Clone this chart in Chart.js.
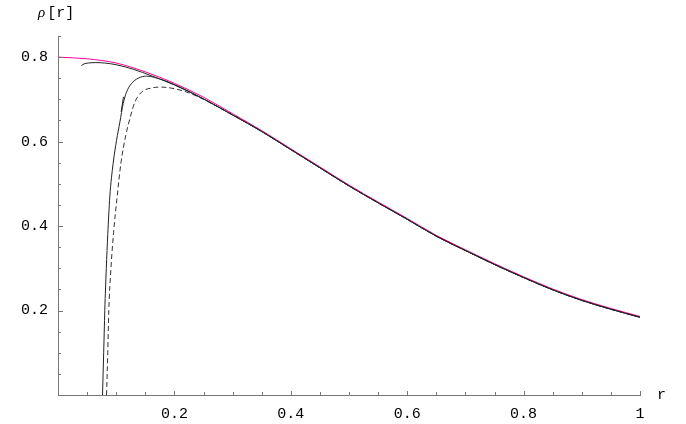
<!DOCTYPE html>
<html>
<head>
<meta charset="utf-8">
<script src="https://cdn.jsdelivr.net/npm/chart.js@4"></script>
<style>
  html, body { margin: 0; padding: 0; background: #fff; }
  #wrap { width: 686px; height: 424px; position: relative; }
</style>
</head>
<body>
<div id="wrap"><canvas id="rhoChart"></canvas></div>
<script>
// valores
const xTicks = [0.2, 0.4, 0.6, 0.8, 1];
const yTicks = [0.2, 0.4, 0.6, 0.8];

// curva magenta
const rExact = [0, 0.05, 0.1, 0.15, 0.2, 0.25, 0.3, 0.35, 0.4, 0.45, 0.5, 0.55, 0.6, 0.65, 0.7, 0.75, 0.8, 0.85, 0.9, 0.95, 1];
const rhoExact = [0.800, 0.796, 0.786, 0.765, 0.738, 0.705, 0.666, 0.626, 0.583, 0.540, 0.497, 0.457, 0.418, 0.378, 0.344, 0.311, 0.280, 0.251, 0.226, 0.205, 0.186];

// curva preta que comeca perto de r = 0.04
const rA = [0.040, 0.045, 0.052, 0.065, 0.08, 0.10, 0.13, 0.16, 0.20, 0.25, 0.3, 0.35, 0.4, 0.45, 0.5, 0.55, 0.6, 0.65, 0.7, 0.75, 0.8, 0.85, 0.9, 0.95, 1];
const rhoA = [0.780, 0.784, 0.786, 0.787, 0.786, 0.782, 0.771, 0.756, 0.734, 0.701, 0.663, 0.624, 0.581, 0.538, 0.495, 0.455, 0.416, 0.376, 0.342, 0.309, 0.278, 0.249, 0.224, 0.203, 0.184];

// curva preta que sobe do eixo
const rB = [0.0765, 0.0785, 0.0804, 0.083, 0.0855, 0.089, 0.0947, 0.1006, 0.1063, 0.112, 0.1177, 0.126, 0.1377, 0.152, 0.166, 0.20, 0.25, 0.3, 0.35, 0.4, 0.45, 0.5, 0.55, 0.6, 0.65, 0.7, 0.75, 0.8, 0.85, 0.9, 0.95, 1];
const rhoB = [0, 0.1, 0.2, 0.3, 0.38, 0.469, 0.548, 0.603, 0.646, 0.690, 0.717, 0.737, 0.750, 0.755, 0.752, 0.735, 0.701, 0.663, 0.624, 0.581, 0.538, 0.495, 0.455, 0.416, 0.376, 0.342, 0.309, 0.278, 0.249, 0.224, 0.203, 0.184];

// curva tracejada
const rC = [0.0834, 0.0855, 0.0873, 0.091, 0.0955, 0.1016, 0.108, 0.1165, 0.1234, 0.132, 0.1435, 0.161, 0.178, 0.2008, 0.2236, 0.25, 0.3, 0.35, 0.4, 0.45, 0.5, 0.55, 0.6, 0.65, 0.7, 0.75, 0.8, 0.85, 0.9, 0.95, 1];
const rhoC = [0, 0.1, 0.2, 0.3, 0.385, 0.469, 0.548, 0.615, 0.654, 0.693, 0.717, 0.727, 0.729, 0.725, 0.716, 0.700, 0.663, 0.624, 0.581, 0.538, 0.495, 0.455, 0.416, 0.376, 0.342, 0.309, 0.278, 0.249, 0.224, 0.203, 0.184];

// pedacinho perto de r = 0.11
const rD = [0.1085, 0.1125];
const rhoD = [0.670, 0.706];

function pts(xs, ys) {
    return xs.map((x, i) => ({ x: x, y: ys[i] }));
}

const monoFont = "'Liberation Mono', 'DejaVu Sans Mono', monospace";

// eixos do estilo Mathematica: tracinhos para dentro
const axisTicks = {
    id: 'axisTicks',
    afterDraw(chart) {
        const ctx = chart.ctx;
        const xs = chart.scales.x;
        const ys = chart.scales.y;
        const area = chart.chartArea;
        ctx.save();
        ctx.strokeStyle = '#777';
        ctx.lineWidth = 1;
        ctx.beginPath();
        for (let v = 0.05; v < 1.001; v += 0.05) {
            const px = Math.round(xs.getPixelForValue(v)) + 0.5;
            const major = xTicks.some(t => Math.abs(t - v) < 1e-6);
            const len = major ? 4 : 3;
            ctx.moveTo(px, area.bottom);
            ctx.lineTo(px, area.bottom - len);
        }
        for (let v = 0.05; v < 0.851; v += 0.05) {
            const py = Math.round(ys.getPixelForValue(v)) + 0.5;
            const major = yTicks.some(t => Math.abs(t - v) < 1e-6);
            const len = major ? 5 : 3;
            ctx.moveTo(area.left, py);
            ctx.lineTo(area.left + len, py);
        }
        ctx.stroke();

        // rotulos dos eixos
        ctx.fillStyle = '#000';
        ctx.textBaseline = 'alphabetic';
        ctx.textAlign = 'left';
        ctx.font = "italic 15px 'Liberation Serif', serif";
        ctx.fillText('\u03C1', 38, 17);
        const w = ctx.measureText('\u03C1').width;
        ctx.font = '15px ' + monoFont;
        ctx.fillText('[r]', 38 + w + 2, 17);
        ctx.textBaseline = 'middle';
        ctx.fillText('r', 657, 395);
        ctx.restore();
    }
};

const lineBase = { showLine: true, pointRadius: 0, borderWidth: 1, fill: false, cubicInterpolationMode: 'monotone' };

const ctx = document.getElementById('rhoChart').getContext('2d');
const rhoChart = new Chart(ctx, {
    type: 'scatter',
    data: {
        datasets: [
            Object.assign({ label: 'A', data: pts(rA, rhoA), borderColor: '#222' }, lineBase),
            Object.assign({ label: 'B', data: pts(rB, rhoB), borderColor: '#222' }, lineBase),
            Object.assign({ label: 'C', data: pts(rC, rhoC), borderColor: '#333', borderDash: [5, 3] }, lineBase),
            Object.assign({ label: 'D', data: pts(rD, rhoD), borderColor: '#222' }, lineBase),
            Object.assign({ label: 'exata', data: pts(rExact, rhoExact), borderColor: 'rgb(255,0,153)' }, lineBase)
        ]
    },
    options: {
        responsive: true,
        maintainAspectRatio: false,
        animation: false,
        layout: { padding: { top: 36, right: 46, left: 0, bottom: 0 } },
        plugins: { legend: { display: false }, tooltip: { enabled: false } },
        scales: {
            x: {
                type: 'linear',
                min: 0,
                max: 1,
                grid: { display: false, drawTicks: false },
                border: { display: true, color: '#777', width: 1 },
                afterBuildTicks: s => { s.ticks = xTicks.map(v => ({ value: v })); },
                afterFit: s => { s.height = 29; },
                ticks: {
                    padding: 10,
                    color: '#000',
                    maxRotation: 0,
                    autoSkip: false,
                    font: { family: monoFont, size: 15 },
                    callback: v => (v === 1 ? '1' : v.toFixed(1))
                }
            },
            y: {
                type: 'linear',
                min: 0,
                max: 0.85,
                grid: { display: false, drawTicks: false },
                border: { display: true, color: '#777', width: 1 },
                afterBuildTicks: s => { s.ticks = yTicks.map(v => ({ value: v })); },
                afterFit: s => { s.width = 58; },
                ticks: {
                    padding: 10,
                    color: '#000',
                    autoSkip: false,
                    font: { family: monoFont, size: 15 },
                    callback: v => v.toFixed(1)
                }
            }
        }
    },
    plugins: [axisTicks]
});
</script>
</body>
</html>
